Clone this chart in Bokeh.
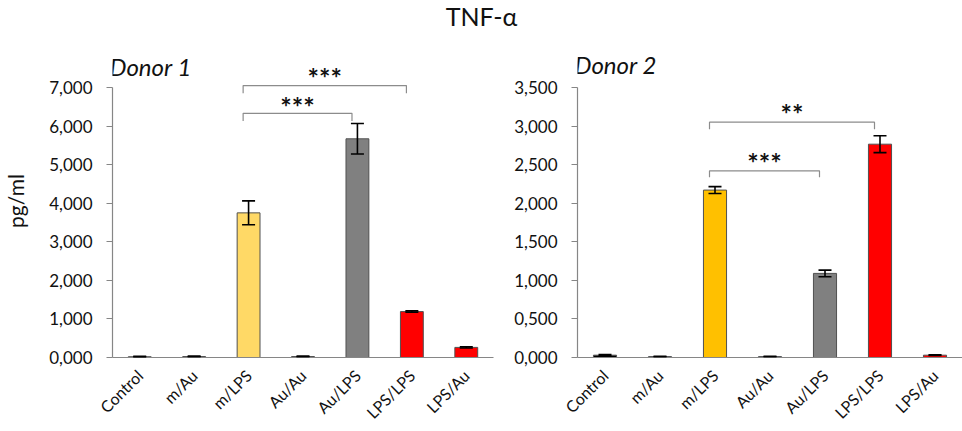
import math
from bokeh.plotting import figure
from bokeh.models import (ColumnDataSource, Whisker, TeeHead, FixedTicker, Label,
                          Range1d, FactorRange)
from bokeh.layouts import column, row
from bokeh.embed import file_html
from bokeh.resources import INLINE
from bokeh.core.properties import value

# ---------------- data ----------------
chart_title = "TNF-α"
categories = ["Control", "m/Au", "m/LPS", "Au/Au", "Au/LPS", "LPS/LPS", "LPS/Au"]

donor1_title = "Donor 1"
donor1_values = [20, 25, 3750, 25, 5670, 1190, 262]
donor1_errors = [10, 10, 310, 10, 395, 18, 15]
donor1_colors = ["#7f7f7f", "#7f7f7f", "#ffd966", "#7f7f7f", "#808080", "#ff0000", "#ff0000"]
donor1_ticks = [0, 1000, 2000, 3000, 4000, 5000, 6000, 7000]
donor1_tick_labels = ["0,000", "1,000", "2,000", "3,000", "4,000", "5,000", "6,000", "7,000"]
donor1_br_start = ["m/LPS", "m/LPS"]
donor1_br_end = ["Au/LPS", "LPS/LPS"]
donor1_br_top = [6330, 7050]
donor1_br_bottom = [6130, 6850]
donor1_br_text = ["***", "***"]
donor1_br_text_y = [6520, 7250]

donor2_title = "Donor 2"
donor2_values = [30, 12, 2170, 12, 1090, 2765, 30]
donor2_errors = [8, 5, 45, 5, 43, 110, 5]
donor2_colors = ["#000000", "#9dc3e6", "#ffc000", "#9dc3e6", "#808080", "#ff0000", "#ff0000"]
donor2_ticks = [0, 500, 1000, 1500, 2000, 2500, 3000, 3500]
donor2_tick_labels = ["0,000", "0,500", "1,000", "1,500", "2,000", "2,500", "3,000", "3,500"]
donor2_br_start = ["m/LPS", "m/LPS"]
donor2_br_end = ["Au/LPS", "LPS/LPS"]
donor2_br_top = [2420, 3050]
donor2_br_bottom = [2335, 2960]
donor2_br_text = ["***", "**"]
donor2_br_text_y = [2525, 3165]

y_label = "pg/ml"

FONT = "Lato"
AXIS_COLOR = "#868686"
TEXT_COLOR = "#111111"


def make_panel(title, vals, errs, colors, ticks, tick_labels, br_s, br_e, br_top, br_bot,
               br_txt, br_txt_y, y_top, y_title, width, border_left, border_right, ylabel=None):
    src = ColumnDataSource(dict(
        cats=categories, top=vals, color=colors,
        upper=[v + e for v, e in zip(vals, errs)],
        lower=[v - e for v, e in zip(vals, errs)],
    ))
    p = figure(x_range=FactorRange(*categories), y_range=Range1d(0, y_top),
               width=width, height=401, toolbar_location=None, output_backend="svg",
               min_border_left=border_left, min_border_right=border_right,
               min_border_top=14, min_border_bottom=71)
    p.xgrid.visible = False
    p.ygrid.visible = False
    p.outline_line_color = None
    p.background_fill_color = "white"
    p.border_fill_color = "white"

    p.vbar(x="cats", top="top", width=0.42, source=src, fill_color="color",
           line_color="#505050", line_width=1)

    head = dict(size=13, line_color="black", line_width=1.6)
    p.add_layout(Whisker(base="cats", upper="upper", lower="lower", source=src,
                         line_color="black", line_width=1.6, level="annotation",
                         upper_head=TeeHead(**head), lower_head=TeeHead(**head)))

    # significance brackets
    shift = -0.1
    xs, ys, tx = [], [], []
    for s, e, t, b in zip(br_s, br_e, br_top, br_bot):
        x0 = categories.index(s) + 0.5 + shift
        x1 = categories.index(e) + 0.5 + shift
        xs.append([x0, x0, x1, x1])
        ys.append([b, t, t, b])
        tx.append((x0 + x1) / 2)
    p.multi_line(xs=xs, ys=ys, line_color="#8c8c8c", line_width=1.2)
    p.text(x=tx, y=br_txt_y, text=br_txt, text_font=value(FONT), text_font_size="27px",
           text_font_style="bold", text_align="center", text_baseline="middle",
           text_color=TEXT_COLOR)

    p.add_layout(Label(x=0, y=y_title, x_offset=-3, text=title, text_font=FONT,
                       text_font_size="24px", text_font_style="italic", text_align="left",
                       text_baseline="middle", text_color=TEXT_COLOR))

    ya = p.yaxis[0]
    ya.ticker = FixedTicker(ticks=ticks)
    ya.major_label_overrides = {t: l for t, l in zip(ticks, tick_labels)}
    ya.bounds = (ticks[0], ticks[-1])
    ya.minor_tick_line_color = None
    ya.major_tick_in = 0
    ya.major_tick_out = 6
    ya.major_tick_line_color = AXIS_COLOR
    ya.axis_line_color = AXIS_COLOR
    ya.axis_line_width = 1.2
    ya.major_label_text_font = FONT
    ya.major_label_text_font_size = "17px"
    ya.major_label_text_color = TEXT_COLOR
    ya.major_label_standoff = 14
    if ylabel:
        ya.axis_label = ylabel
        ya.axis_label_text_font = FONT
        ya.axis_label_text_font_size = "21px"
        ya.axis_label_text_font_style = "normal"
        ya.axis_label_text_color = TEXT_COLOR
        ya.axis_label_standoff = 18

    xa = p.xaxis[0]
    xa.major_tick_line_color = None
    xa.minor_tick_line_color = None
    xa.axis_line_color = AXIS_COLOR
    xa.axis_line_width = 1.2
    xa.major_label_orientation = math.pi / 4
    xa.major_label_text_font = FONT
    xa.major_label_text_font_size = "16px"
    xa.major_label_text_color = TEXT_COLOR
    xa.major_label_standoff = 9
    return p


p1 = make_panel(donor1_title, donor1_values, donor1_errors, donor1_colors, donor1_ticks,
                donor1_tick_labels, donor1_br_start, donor1_br_end, donor1_br_top,
                donor1_br_bottom, donor1_br_text, donor1_br_text_y,
                y_top=8115, y_title=7538, width=495, border_left=108, border_right=2,
                ylabel=y_label)
p2 = make_panel(donor2_title, donor2_values, donor2_errors, donor2_colors, donor2_ticks,
                donor2_tick_labels, donor2_br_start, donor2_br_end, donor2_br_top,
                donor2_br_bottom, donor2_br_text, donor2_br_text_y,
                y_top=4057, y_title=3801, width=467, border_left=82, border_right=0)

pt = figure(width=962, height=30, x_range=Range1d(0, 1), y_range=Range1d(0, 1),
            x_axis_type=None, y_axis_type=None, toolbar_location=None,
            output_backend="svg", min_border=0)
pt.outline_line_color = None
pt.xgrid.visible = False
pt.ygrid.visible = False
pt.add_layout(Label(x=0.5, y=0.5, text=chart_title, text_font=FONT, text_font_size="25px",
                    text_align="center", text_baseline="middle", text_color=TEXT_COLOR))

layout = column(pt, row(p1, p2))
open("out.html", "w").write(file_html(layout, INLINE))
